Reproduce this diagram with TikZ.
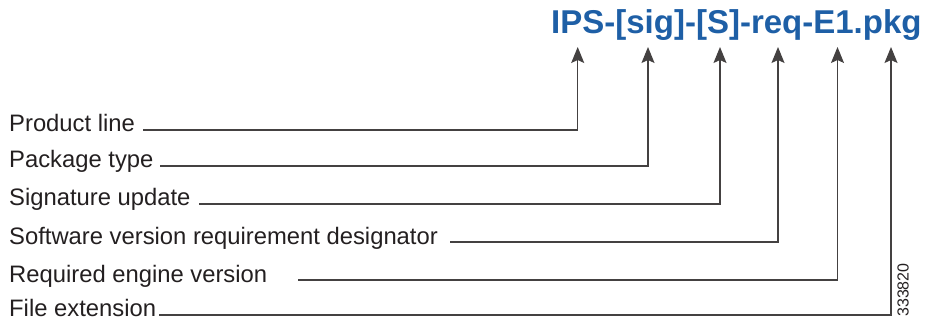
\documentclass[tikz,border=0pt]{standalone}
\usepackage{fontspec}
\setmainfont{Liberation Sans}
\usetikzlibrary{arrows.meta}
\definecolor{ttl}{RGB}{30,95,166}
\definecolor{ink}{RGB}{35,31,32}
\begin{document}
\begin{tikzpicture}[x=1pt,y=-1pt,
  lbl/.style={anchor=base west,inner sep=0pt,text depth=0pt,text=ink,font=\fontsize{23.8}{28}\selectfont},
  conn/.style={draw=ink!85,line width=1.2pt,-{Stealth[length=16pt,width=13pt,inset=3pt]}},
  titlestyle/.style={anchor=base west,inner sep=0pt,text=ttl,font=\fontsize{33}{38}\selectfont\bfseries}]
\useasboundingbox (0,0) rectangle (928,320);
\node[titlestyle] (title) at (551,34) {IPS-[sig]-[S]-req-E1.pkg};
\node[lbl] (p1) at (9,131.5) {Product line};
\node[lbl] (p2) at (9,168) {Package type};
\node[lbl] (p3) at (9,206) {Signature update};
\node[lbl] (p4) at (9,244) {Software version requirement designator};
\node[lbl] (p5) at (9,282) {Required engine version};
\node[lbl] (p6) at (9,316.5) {File extension};
\coordinate (s1) at (143,130);
\coordinate (s2) at (160,166);
\coordinate (s3) at (199,204);
\coordinate (s4) at (450,242);
\coordinate (s5) at (298,280);
\coordinate (s6) at (159,315);
\coordinate (t1) at (577.7,47);
\coordinate (t2) at (648,47);
\coordinate (t3) at (720,47);
\coordinate (t4) at (778,47);
\coordinate (t5) at (837.5,47);
\coordinate (t6) at (891,47);
\draw[conn] (s1) -| (t1);
\draw[conn] (s2) -| (t2);
\draw[conn] (s3) -| (t3);
\draw[conn] (s4) -| (t4);
\draw[conn] (s5) -| (t5);
\draw[conn] (s6) -| (t6);
\node[rotate=90,inner sep=0pt,text=ink,font=\fontsize{16}{19}\selectfont] (num) at (903,290) {333820};
\end{tikzpicture}
\end{document}
